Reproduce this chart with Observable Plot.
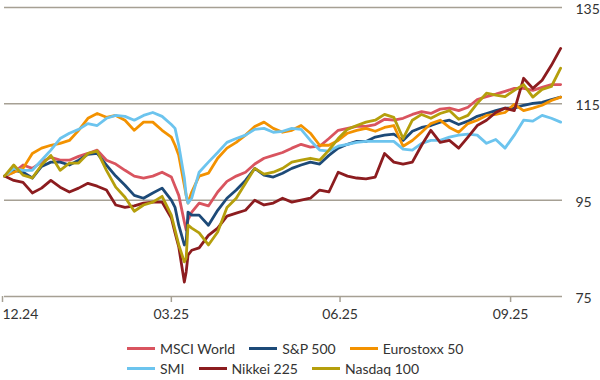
<!DOCTYPE html>
<html><head><meta charset="utf-8">
<script src="https://cdn.jsdelivr.net/npm/d3@7"></script>
<script src="https://cdn.jsdelivr.net/npm/@observablehq/plot@0.6"></script>
<style>
body{margin:0;background:#fff;font-family:Lato,"Noto Sans",sans-serif;}
#chart{position:relative;width:600px;height:380px;overflow:hidden;}
#legend{position:absolute;left:127px;top:338px;font-size:14px;color:#333;}
.row{display:flex;align-items:center;height:20px;white-space:nowrap;}
.item{display:flex;align-items:center;margin-right:14px;}
.sw{width:28px;height:3px;margin-right:5px;}
</style></head><body><div id="chart"></div>
<script>
const dates = [
"2024-12-31","2025-01-05","2025-01-10","2025-01-15","2025-01-20","2025-01-25","2025-01-30","2025-02-04","2025-02-09","2025-02-14",
"2025-02-19","2025-02-24","2025-03-01","2025-03-06","2025-03-11","2025-03-16","2025-03-21","2025-03-26","2025-03-31","2025-04-02",
"2025-04-04","2025-04-07","2025-04-08","2025-04-09","2025-04-11","2025-04-15","2025-04-20","2025-04-25","2025-04-30","2025-05-05",
"2025-05-10","2025-05-15","2025-05-20","2025-05-25","2025-05-30","2025-06-04","2025-06-09","2025-06-14","2025-06-19","2025-06-24",
"2025-06-29","2025-07-04","2025-07-09","2025-07-14","2025-07-19","2025-07-24","2025-07-29","2025-08-03","2025-08-08","2025-08-13",
"2025-08-18","2025-08-23","2025-08-28","2025-09-02","2025-09-07","2025-09-12","2025-09-17","2025-09-22","2025-09-27","2025-10-02",
"2025-10-07","2025-10-12","2025-10-17","2025-10-22","2025-10-27"];

const msciWorld = [100.0,100.8,102.3,101.6,102.9,103.9,103.3,103.3,104.1,104.7,
105.4,103.3,102.5,101.2,100.0,99.6,100.0,100.8,99.8,97.9,
96.0,90.5,88.8,90.9,92.5,94.4,93.8,96.7,98.9,100.0,
100.8,102.5,103.7,104.3,104.9,105.8,106.6,106.0,106.2,107.8,
109.5,109.9,110.3,110.3,110.7,111.8,111.6,112.0,112.8,113.4,
113.0,113.9,114.1,113.6,114.3,115.9,116.5,117.0,117.6,118.2,
118.2,117.8,118.4,119.0,119.0];

const sp500 = [100.0,101.2,100.8,99.6,102.0,102.9,102.9,102.3,103.3,104.5,
104.7,102.3,100.0,98.1,96.0,95.4,96.5,97.5,95.0,93.5,
89.8,85.7,86.1,92.5,91.9,91.9,89.8,92.9,95.4,97.1,
99.1,101.6,100.2,99.8,100.6,101.6,102.3,102.9,102.5,104.3,
105.8,106.6,107.2,107.2,108.1,108.5,108.7,107.4,109.3,110.1,
110.5,111.2,111.6,110.7,111.4,112.4,113.0,113.6,114.1,114.1,
114.7,115.1,115.3,115.9,116.4];

const eurostoxx50 = [100.0,100.8,101.6,104.7,105.8,106.4,106.8,107.4,109.5,112.0,
113.0,112.2,112.6,111.6,109.5,111.2,111.2,109.5,108.1,106.4,
104.3,98.1,96.0,94.4,96.7,100.0,100.6,103.7,105.8,107.0,
108.5,110.3,111.2,109.9,109.1,109.5,110.5,108.9,106.4,106.4,
107.4,108.9,109.5,109.9,109.3,110.1,110.5,106.2,107.4,109.1,
110.9,111.6,110.1,109.1,110.9,111.6,112.6,112.8,113.2,114.9,
113.6,114.1,114.7,115.7,116.4];

const smi = [100.0,101.6,101.2,101.2,103.3,105.4,107.8,108.9,109.7,110.9,
110.5,112.0,112.6,112.4,111.6,112.6,113.2,112.4,110.7,109.9,
106.4,99.6,96.0,94.4,95.4,100.8,102.9,104.9,107.0,107.8,
108.5,109.7,109.9,109.1,109.3,109.9,109.7,107.4,105.4,105.2,
106.2,106.6,107.0,107.2,107.2,107.2,107.2,105.6,105.4,106.8,
107.4,107.4,108.1,108.5,108.7,108.5,106.8,107.6,105.8,108.5,
111.6,111.4,112.6,112.0,111.2];

const nikkei225 = [100.0,99.1,98.7,96.5,97.5,99.1,97.7,96.7,97.5,98.5,
97.9,97.1,94.0,93.5,93.8,94.4,94.6,94.6,91.3,88.2,
85.3,78.0,80.1,83.6,84.6,85.1,87.7,89.2,91.7,92.3,
92.9,95.0,94.0,94.4,95.4,94.6,95.0,95.4,97.1,96.7,
100.8,100.0,99.6,99.4,99.8,104.7,102.9,102.5,102.9,106.4,
109.5,107.0,107.4,105.8,108.1,110.5,111.6,113.2,114.1,113.6,
120.3,118.2,119.9,123.0,126.5];

const nasdaq100 = [100.0,102.3,100.2,99.6,102.3,104.3,101.2,102.7,102.7,104.7,
105.2,101.2,97.7,95.6,92.7,94.0,94.6,95.8,91.9,88.8,
85.7,82.2,83.0,89.8,89.2,88.2,85.7,88.4,93.5,95.4,
98.5,101.6,100.4,100.8,101.6,102.9,103.3,103.7,103.3,105.4,
107.8,109.7,110.5,111.2,111.6,112.8,112.2,107.8,111.6,112.8,
112.0,113.0,113.6,111.8,112.6,115.1,117.2,116.8,116.5,117.8,
119.0,116.4,118.0,118.6,122.4];

const seriesNames = ["MSCI World","S&P 500","Eurostoxx 50","SMI","Nikkei 225","Nasdaq 100"];
const seriesColors = ["#d9545f","#1d4a78","#f39200","#6cc4ee","#8c1c1f","#b59f0c"];
const seriesValues = [msciWorld, sp500, eurostoxx50, smi, nikkei225, nasdaq100];
const yTicks = [75, 95, 115, 135];
const xTickDates = ["2024-12-31","2025-03-31","2025-06-30","2025-09-30"];
const xDomain = ["2024-12-31","2025-10-28"];

const parse = d3.utcParse("%Y-%m-%d");
const data = seriesNames.flatMap((name, k) =>
  seriesValues[k].map((v, i) => ({date: parse(dates[i]), value: v, name})));

const grid = "#a6a094";
const fmt = d3.utcFormat("%m.%y");

const plot = Plot.plot({
  width: 600, height: 325,
  marginTop: 7, marginBottom: 29, marginLeft: 4, marginRight: 38,
  style: {fontFamily: "Lato, 'Noto Sans', sans-serif", fontSize: "14px", color: "#333", background: "#fff"},
  x: {type: "utc", domain: xDomain.map(parse)},
  y: {domain: [75, 135]},
  color: {domain: seriesNames, range: seriesColors},
  marks: [
    Plot.ruleY(yTicks, {stroke: grid, strokeWidth: 1.5}),
    Plot.axisY({anchor: "right", ticks: yTicks, tickSize: 0, tickPadding: 13, label: null, fill: "#333", fontSize: 14, dy: 2}),
    Plot.axisX({ticks: xTickDates.slice(1).map(parse), tickFormat: fmt, tickSize: 6, tickPadding: 7, stroke: grid, strokeWidth: 1.5, fill: "#333", label: null, fontSize: 14}),
    Plot.axisX({ticks: xTickDates.slice(0,1).map(parse), tickFormat: fmt, tickSize: 6, tickPadding: 7, stroke: grid, strokeWidth: 1.5, fill: "#333", label: null, fontSize: 14, textAnchor: "start", dx: -2}),
    Plot.line(data, {x: "date", y: "value", z: "name", stroke: "name", strokeWidth: 2.8, strokeLinejoin: "round", strokeLinecap: "round"})
  ]
});

const chart = document.getElementById("chart");
chart.appendChild(plot);

const legend = document.createElement("div");
legend.id = "legend";
const rows = [[0,1,2],[3,4,5]];
rows.forEach(r => {
  const row = document.createElement("div");
  row.className = "row";
  r.forEach(k => {
    const item = document.createElement("div");
    item.className = "item";
    const sw = document.createElement("span");
    sw.className = "sw";
    sw.style.background = seriesColors[k];
    const t = document.createElement("span");
    t.textContent = seriesNames[k];
    item.appendChild(sw); item.appendChild(t);
    row.appendChild(item);
  });
  legend.appendChild(row);
});
chart.appendChild(legend);
</script>
</body></html>
